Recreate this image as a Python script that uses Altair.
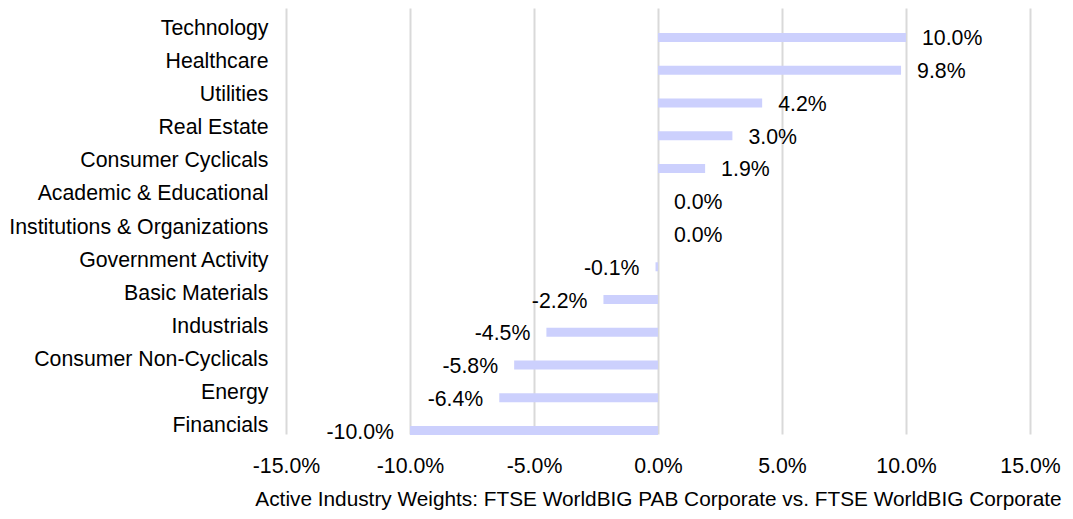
import altair as alt
import pandas as pd

industries = [
    "Technology", "Healthcare", "Utilities", "Real Estate", "Consumer Cyclicals",
    "Academic & Educational", "Institutions & Organizations", "Government Activity",
    "Basic Materials", "Industrials", "Consumer Non-Cyclicals", "Energy", "Financials",
]
weights = [10.0, 9.8, 4.2, 3.0, 1.9, 0.0, 0.0, -0.1, -2.2, -4.5, -5.8, -6.4, -10.0]
x_ticks = [-15, -10, -5, 0, 5, 10, 15]
x_title = "Active Industry Weights: FTSE WorldBIG PAB Corporate vs. FTSE WorldBIG Corporate"

df = pd.DataFrame({"industry": industries, "weight": weights})

FONT = "Liberation Sans"
FS = 21.3
BAR_COLOR = "#ccd0fd"
pct_expr = "(datum.value < 0 ? '-' : '') + format(abs(datum.value), '.1f') + '%'"
lab_expr = "(datum.weight < 0 ? '-' : '') + format(abs(datum.weight), '.1f') + '%'"

x_enc = alt.X(
    "weight:Q",
    scale=alt.Scale(domain=[-15, 15], nice=False, zero=False),
    axis=alt.Axis(
        values=x_ticks, labelExpr=pct_expr, grid=True, gridColor="#d9d9d9", gridWidth=2,
        domain=False, ticks=False, labelPadding=12, labelFlush=False, labelFontSize=FS,
        labelFont=FONT, labelColor="#000", title=x_title, titleFontSize=20.8, titleFont=FONT,
        titleFontWeight="normal", titleColor="#000", titlePadding=13,
    ),
)

y_label = alt.Y(
    "industry:N", sort=industries,
    scale=alt.Scale(type="band", domain=industries, paddingInner=0, paddingOuter=0),
    axis=alt.Axis(
        title=None, domain=False, ticks=False, grid=False, labelPadding=18,
        labelFontSize=FS, labelFont=FONT, labelColor="#000", labelLimit=400,
    ),
)

y_bar = alt.Y(
    "industry:N", sort=industries,
    scale=alt.Scale(type="band", domain=industries, range=[9, 435], paddingInner=0, paddingOuter=0),
    axis=None,
)

base = alt.Chart(df)

label_layer = base.mark_point(opacity=0).encode(y=y_label)

bars = base.mark_bar(size=9, color=BAR_COLOR).encode(x=x_enc, x2=alt.datum(0), y=y_bar)

tpos = base.transform_filter("datum.weight >= 0").transform_calculate(lab=lab_expr).mark_text(
    align="left", baseline="middle", dx=16, dy=2, fontSize=FS, font=FONT, color="#000"
).encode(x=x_enc, y=y_bar, text="lab:N")

tneg = base.transform_filter("datum.weight < 0").transform_calculate(lab=lab_expr).mark_text(
    align="right", baseline="middle", dx=-16, dy=2, fontSize=FS, font=FONT, color="#000"
).encode(x=x_enc, y=y_bar, text="lab:N")

chart = alt.layer(label_layer, alt.layer(bars, tpos, tneg)).resolve_scale(
    y="independent"
).properties(
    width=744, height=431, autosize="none",
    padding={"left": 278, "top": 4, "right": 35, "bottom": 68},
    background="white",
).configure_view(stroke=None)

chart.save("out.html", embed_options={"renderer": "svg", "actions": False})
